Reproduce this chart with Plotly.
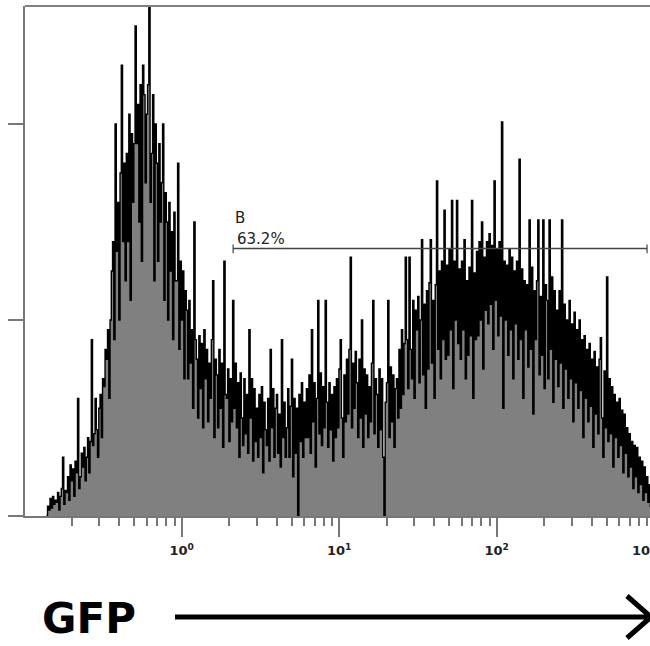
import numpy as np
import plotly.graph_objects as go

# ---- data ----
bin_start_log = -0.86       # log10 of first bin's left edge
bin_step_log = 0.00794      # bin width in decades
counts = [
    0, 5, 3, 9, 4, 10, 6, 8,
    7, 12, 3, 10, 14, 30, 6, 13,
    12, 20, 8, 26, 18, 24, 10, 28,
    22, 60, 14, 20, 32, 25, 35, 18,
    30, 40, 22, 38, 90, 36, 42, 60,
    44, 30, 55, 62, 40, 70, 66, 85,
    80, 95, 60, 100, 125, 140, 90, 200,
    135, 160, 100, 175, 230, 140, 180, 120,
    185, 140, 205, 110, 195, 160, 190, 250,
    190, 210, 150, 220, 130, 230, 215, 170,
    205, 220, 300, 160, 185, 215, 120, 200,
    180, 130, 190, 150, 170, 200, 110, 165,
    150, 100, 160, 125, 145, 90, 155, 120,
    120, 180, 85, 130, 100, 125, 70, 115,
    105, 70, 110, 78, 95, 55, 150, 90,
    80, 50, 92, 65, 88, 45, 95, 70,
    85, 48, 78, 60, 90, 120, 40, 80,
    72, 45, 85, 55, 78, 35, 130, 62,
    60, 75, 38, 70, 48, 110, 55, 78,
    45, 68, 30, 73, 50, 36, 70, 42,
    62, 32, 95, 50, 70, 28, 65, 38,
    55, 30, 62, 40, 66, 22, 58, 44,
    36, 60, 28, 85, 45, 65, 30, 55,
    62, 32, 52, 25, 90, 40, 58, 30,
    45, 65, 30, 56, 80, 20, 60, 32,
    55, 0, 62, 38, 68, 30, 58, 40,
    65, 40, 72, 32, 95, 48, 68, 25,
    60, 110, 42, 73, 36, 66, 45, 110,
    58, 35, 68, 44, 62, 28, 66, 40,
    70, 45, 75, 90, 50, 30, 72, 48,
    80, 52, 85, 132, 45, 78, 55, 84,
    68, 40, 80, 50, 100, 35, 75, 52,
    72, 40, 66, 48, 78, 110, 42, 70,
    62, 35, 75, 44, 70, 30, 0, 58,
    68, 110, 40, 76, 48, 72, 35, 65,
    70, 50, 85, 55, 95, 62, 88, 132,
    90, 65, 132, 85, 70, 110, 60, 105,
    95, 112, 68, 100, 141, 72, 108, 55,
    115, 75, 119, 141, 78, 110, 60, 118,
    171, 85, 125, 70, 130, 90, 156, 80,
    128, 82, 136, 95, 161, 65, 130, 100,
    161, 88, 126, 80, 130, 95, 141, 70,
    120, 82, 127, 92, 161, 60, 124, 90,
    135, 92, 140, 100, 150, 75, 132, 105,
    140, 98, 144, 108, 138, 85, 171, 110,
    136, 92, 140, 102, 201, 55, 130, 100,
    128, 82, 136, 95, 132, 70, 125, 98,
    130, 80, 182, 90, 126, 60, 120, 95,
    118, 76, 151, 85, 127, 52, 115, 90,
    120, 151, 72, 112, 82, 151, 65, 118,
    110, 70, 151, 85, 122, 58, 115, 80,
    105, 66, 115, 78, 151, 55, 108, 75,
    100, 60, 110, 70, 98, 48, 104, 68,
    95, 55, 100, 64, 90, 40, 92, 60,
    85, 48, 88, 56, 80, 35, 84, 52,
    76, 42, 80, 91, 50, 30, 74, 45,
    122, 38, 70, 42, 66, 25, 62, 40,
    58, 30, 60, 36, 54, 22, 52, 32,
    45, 20, 42, 25, 38, 14, 36, 20,
    35, 12, 30, 16, 28, 8, 25, 12,
    20, 7, 16, 5, 14, 3, 12, 4,
]

major_tickvals = [1, 10, 100]
major_ticktext = ["<b>10<sup>0</sup></b>", "<b>10<sup>1</sup></b>", "<b>10<sup>2</sup></b>"]
cut_label = "<b>10<sup>3</sup></b>"
minor_tickvals = [m * d for d in (0.1, 1, 10, 100) for m in range(2, 10)]
y_tickvals = [0, 100, 200]

gate_name = "B"
gate_pct = "63.2%"
gate_x0, gate_x1, gate_y = 2.12, 900, 136.5

axis_label = "GFP"

FONT = "DejaVu Sans"

# ---- geometry helpers (layout only) ----
W, H = 650, 646
L, R, T, B = 25, 0, 6, 130
PW, PH = W - L - R, H - T - B


def px(xp):
    return (xp - L) / PW


def py(yp):
    return (H - B - yp) / PH


edges_log = bin_start_log + bin_step_log * np.arange(len(counts) + 1)
edges = 10 ** edges_log
yvals = list(counts) + [counts[-1]]

fig = go.Figure()
fig.add_trace(go.Scatter(
    x=edges, y=yvals, mode="lines", line_shape="hv",
    line=dict(color="#000000", width=1.4),
    fill="tozeroy", fillcolor="#808080",
    hoverinfo="skip", showlegend=False,
))

# gate line
fig.add_trace(go.Scatter(
    x=[gate_x0, gate_x1], y=[gate_y, gate_y], mode="lines",
    line=dict(color="#444444", width=1.5), showlegend=False, hoverinfo="skip",
))
for gx in (gate_x0, gate_x1):
    fig.add_shape(type="line", xref="x", yref="y", x0=gx, x1=gx,
                  y0=gate_y - 2.5, y1=gate_y + 2.0,
                  line=dict(color="#444444", width=1.2))

fig.add_annotation(text=gate_name, xref="paper", yref="paper",
                   x=px(233), y=py(218), xanchor="left", yanchor="middle",
                   showarrow=False, font=dict(family=FONT, size=15, color="#222222"))
fig.add_annotation(text=gate_pct, xref="paper", yref="paper",
                   x=px(235), y=py(238.5), xanchor="left", yanchor="middle",
                   showarrow=False, font=dict(family=FONT, size=15, color="#222222"))

# top frame line
fig.add_shape(type="line", xref="paper", yref="paper", x0=0, x1=1, y0=1, y1=1,
              line=dict(color="#808080", width=2))

# cut-off 10^3 label
fig.add_annotation(text=cut_label, xref="paper", yref="paper",
                   x=px(644), y=py(550), xanchor="center", yanchor="middle",
                   showarrow=False, font=dict(family=FONT, size=13, color="#222222"))

# GFP label and arrow
fig.add_annotation(text="<b>%s</b>" % axis_label, xref="paper", yref="paper",
                   x=px(40), y=py(618), xanchor="left", yanchor="middle",
                   showarrow=False, font=dict(family=FONT, size=42, color="#000000"))
fig.add_shape(type="line", xref="paper", yref="paper",
              x0=px(175), x1=px(650), y0=py(617), y1=py(617),
              line=dict(color="#000000", width=5))
fig.add_shape(type="path", xref="paper", yref="paper",
              path="M %f %f L %f %f L %f %f" % (px(627), py(596), px(651), py(617), px(627), py(638)),
              line=dict(color="#000000", width=5))

fig.update_layout(
    width=W, height=H,
    margin=dict(l=L, r=R, t=T, b=B, pad=0),
    plot_bgcolor="white", paper_bgcolor="white",
    showlegend=False,
    xaxis=dict(
        type="log", range=[-0.995, 2.973],
        showline=True, linecolor="#777777", linewidth=1.5,
        ticks="outside", ticklen=19, tickwidth=1.5, tickcolor="#777777",
        tickmode="array", tickvals=major_tickvals, ticktext=major_ticktext,
        tickfont=dict(family=FONT, size=13, color="#222222"),
        ticklabelstandoff=3,
        minor=dict(tickmode="array", tickvals=minor_tickvals, ticks="outside",
                   ticklen=8, tickwidth=1.5, tickcolor="#777777", showgrid=False),
        showgrid=False, zeroline=False,
    ),
    yaxis=dict(
        range=[0, 260.2],
        showline=True, linecolor="#777777", linewidth=2,
        ticks="outside", ticklen=15, tickwidth=1.5, tickcolor="#777777",
        tickmode="array", tickvals=y_tickvals, showticklabels=False,
        showgrid=False, zeroline=False,
    ),
)

fig.write_html("out.html", config={"displayModeBar": False},
               post_script="document.body.style.margin='0px';")
